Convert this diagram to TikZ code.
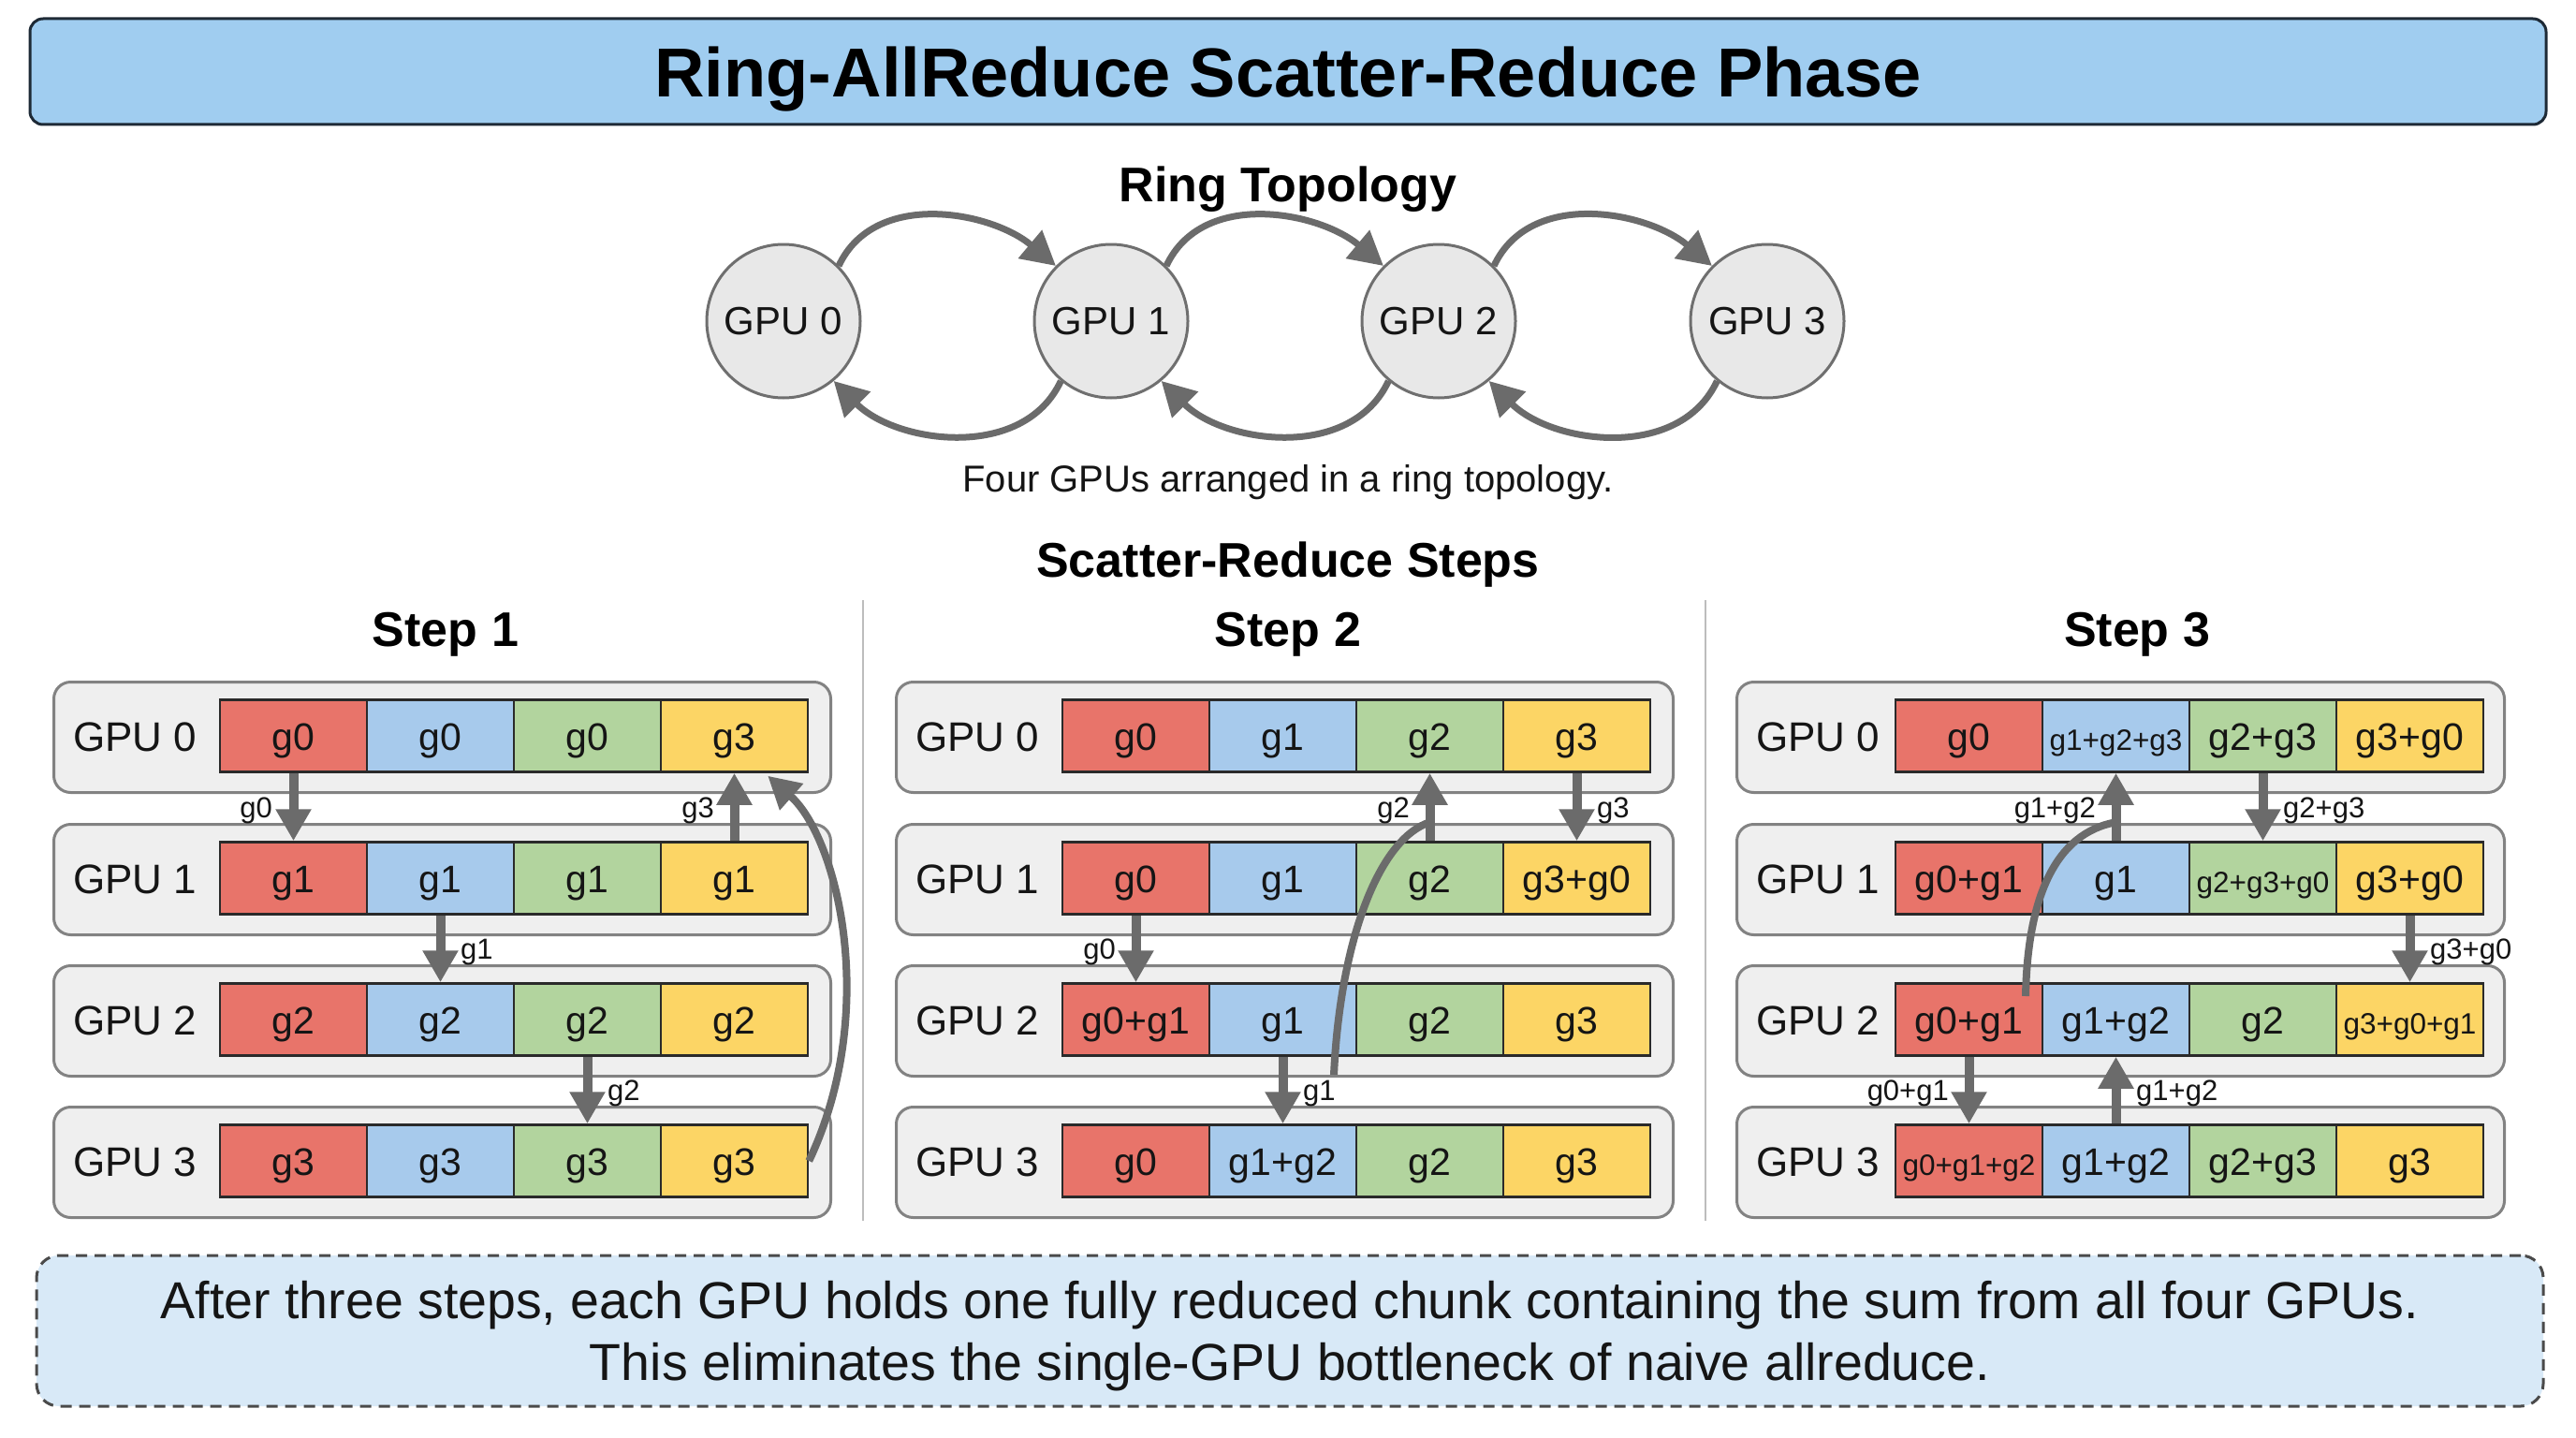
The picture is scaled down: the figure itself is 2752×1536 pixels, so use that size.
\documentclass[tikz,border=0pt]{standalone}
\usepackage{fontspec}
\setmainfont{Liberation Sans}
\usetikzlibrary{arrows.meta,calc}
\definecolor{titlefill}{HTML}{A0CDF0}
\definecolor{titleborder}{HTML}{1E2A36}
\definecolor{circfill}{HTML}{E8E8E8}
\definecolor{circborder}{HTML}{6F6F6F}
\definecolor{arrowgray}{HTML}{6B6B6B}
\definecolor{rowfill}{HTML}{EFEFEF}
\definecolor{rowborder}{HTML}{828282}
\definecolor{cellborder}{HTML}{2A2A2A}
\definecolor{cred}{HTML}{E8746A}
\definecolor{cblue}{HTML}{A7CAEC}
\definecolor{cgreen}{HTML}{B2D49E}
\definecolor{cyellow}{HTML}{FCD565}
\definecolor{textdark}{HTML}{151515}
\definecolor{sepgray}{HTML}{BDBDBD}
\definecolor{notefill}{HTML}{D8E9F7}
\definecolor{noteborder}{HTML}{4A4A4A}
\newcommand\smc[1]{{\fontsize{31.5}{34}\selectfont #1}}
\newcommand\gpurow[7]{%
  \node[rowbox, minimum width=\boxW, anchor=north west] (#1) at (\boxL,-#2) {};
  \node[rowlabel, anchor=west] (#1l) at ([xshift=22pt]#1.west) {#3};
  \node[cell, fill=cred] (#1c0) at (\cellS+78.5,-#2-59) {#4};
  \node[cell, fill=cblue] (#1c1) at (\cellS+235.5,-#2-59) {#5};
  \node[cell, fill=cgreen] (#1c2) at (\cellS+392.5,-#2-59) {#6};
  \node[cell, fill=cyellow] (#1c3) at (\cellS+549.5,-#2-59) {#7};
}
\tikzset{
  titlebox/.style={draw=titleborder, fill=titlefill, line width=3pt, rounded corners=14pt,
    minimum width=2688pt, minimum height=113pt, inner sep=0, text depth=0pt,
    font=\fontsize{74}{80}\selectfont\bfseries, text=black},
  heading/.style={font=\fontsize{52}{58}\selectfont\bfseries, text=black, inner sep=0, text depth=0pt},
  caption/.style={font=\fontsize{40}{46}\selectfont, text=textdark, inner sep=0, text depth=0pt},
  gpucircle/.style={circle, draw=circborder, fill=circfill, line width=3pt, minimum size=164pt,
    inner sep=0, font=\fontsize{42}{46}\selectfont, text=textdark},
  ringarrow/.style={draw=arrowgray, line width=7pt, -{Triangle[length=36pt,width=38pt]}},
  rowbox/.style={draw=rowborder, fill=rowfill, line width=3pt, rounded corners=18pt,
    minimum height=118pt, inner sep=0},
  rowlabel/.style={font=\fontsize{44}{48}\selectfont, inner sep=0, text=textdark},
  cell/.style={draw=cellborder, line width=2.5pt, minimum width=157pt, minimum height=77pt,
    inner sep=0, text height=40pt, text depth=10pt, font=\fontsize{41}{45}\selectfont, text=textdark},
  flow/.style={draw=arrowgray, line width=10pt, -{Triangle[length=34pt,width=36pt]}},
  flowcurve/.style={draw=arrowgray, line width=8pt, -{Triangle[length=34pt,width=36pt]}},
  flowline/.style={draw=arrowgray, line width=8pt},
  flowlbl/.style={font=\fontsize{31}{34}\selectfont, inner sep=0, text=textdark},
  sepline/.style={draw=sepgray, line width=2.5pt},
  notebox/.style={draw=noteborder, dash pattern=on 12pt off 8pt, fill=notefill, line width=3pt,
    rounded corners=24pt, minimum width=2678pt, minimum height=161pt, inner sep=0},
  notetext/.style={align=center, inner sep=0, font=\fontsize{55.5}{66}\selectfont, text=textdark}
}
\begin{document}
\begin{tikzpicture}[x=1pt,y=1pt]
\useasboundingbox (0,0) rectangle (2752,-1536);
\fill[white] (0,0) rectangle (2752,-1536);

% title
\node[titlebox] (title) at (1376,-76.5) {Ring-AllReduce Scatter-Reduce Phase};

% ring topology
\node[heading] (ringhead) at (1376,-197) {Ring Topology};
\node[gpucircle] (r0) at (837,-343) {GPU 0};
\node[gpucircle] (r1) at (1187,-343) {GPU 1};
\node[gpucircle] (r2) at (1537,-343) {GPU 2};
\node[gpucircle] (r3) at (1888,-343) {GPU 3};
\draw[ringarrow] (r0.45) to[out=65,in=140] (r1.135);
\draw[ringarrow] (r1.45) to[out=65,in=140] (r2.135);
\draw[ringarrow] (r2.45) to[out=65,in=140] (r3.135);
\draw[ringarrow] (r1.-130) to[out=-115,in=-45] (r0.-50);
\draw[ringarrow] (r2.-130) to[out=-115,in=-45] (r1.-50);
\draw[ringarrow] (r3.-130) to[out=-115,in=-45] (r2.-50);
\node[caption] (ringcap) at (1376,-511) {Four GPUs arranged in a ring topology.};

% steps
\node[heading] (stepshead) at (1376,-598) {Scatter-Reduce Steps};
\node[heading] (st1) at (476,-672) {Step 1};
\node[heading] (st2) at (1376,-672) {Step 2};
\node[heading] (st3) at (2283,-672) {Step 3};
\draw[sepline] (922,-641) -- (922,-1304);
\draw[sepline] (1822,-641) -- (1822,-1304);

% Step 1
\def\boxL{56}\def\boxW{830}\def\cellS{235}
\gpurow{sa0}{727}{GPU 0}{g0}{g0}{g0}{g3}
\gpurow{sa1}{879}{GPU 1}{g1}{g1}{g1}{g1}
\gpurow{sa2}{1030}{GPU 2}{g2}{g2}{g2}{g2}
\gpurow{sa3}{1181}{GPU 3}{g3}{g3}{g3}{g3}
\draw[flow] (sa0c0.south) -- (sa1c0.north);
\node[flowlbl, anchor=east] (la1) at (291,-866) {g0};
\draw[flow] (sa1c3.north) -- (sa0c3.south);
\node[flowlbl, anchor=east] (la2) at (763,-866) {g3};
\draw[flow] (sa1c1.south) -- (sa2c1.north);
\node[flowlbl, anchor=west] (la3) at (492,-1017) {g1};
\draw[flow] (sa2c2.south) -- (sa3c2.north);
\node[flowlbl, anchor=west] (la4) at (649,-1168) {g2};
\draw[flowcurve] (sa3c3.east) .. controls (940,-1080) and (895,-895) .. ($(sa0c3.south east)+(-44,-3)$);

% Step 2
\def\boxL{956}\def\boxW{830}\def\cellS{1135}
\gpurow{sb0}{727}{GPU 0}{g0}{g1}{g2}{g3}
\gpurow{sb1}{879}{GPU 1}{g0}{g1}{g2}{g3+g0}
\gpurow{sb2}{1030}{GPU 2}{g0+g1}{g1}{g2}{g3}
\gpurow{sb3}{1181}{GPU 3}{g0}{g1+g2}{g2}{g3}
\coordinate (sbstart) at (1425,-1148);
\draw[flowline] (sbstart) .. controls (1432,-1000) and (1475,-895) .. ($(sb1c2.north)+(0,20)$);
\draw[flow] (sb1c2.north) -- (sb0c2.south);
\node[flowlbl, anchor=east] (lb1) at (1506,-866) {g2};
\draw[flow] (sb0c3.south) -- (sb1c3.north);
\node[flowlbl, anchor=west] (lb2) at (1706,-866) {g3};
\draw[flow] (sb1c0.south) -- (sb2c0.north);
\node[flowlbl, anchor=east] (lb3) at (1192,-1017) {g0};
\draw[flow] (sb2c1.south) -- (sb3c1.north);
\node[flowlbl, anchor=west] (lb4) at (1392,-1168) {g1};

% Step 3
\def\boxL{1854}\def\boxW{820}\def\cellS{2025}
\gpurow{sc0}{727}{GPU 0}{g0}{\smc{g1+g2+g3}}{g2+g3}{g3+g0}
\gpurow{sc1}{879}{GPU 1}{g0+g1}{g1}{\smc{g2+g3+g0}}{g3+g0}
\gpurow{sc2}{1030}{GPU 2}{g0+g1}{g1+g2}{g2}{\smc{g3+g0+g1}}
\gpurow{sc3}{1181}{GPU 3}{\smc{g0+g1+g2}}{g1+g2}{g2+g3}{g3}
\coordinate (scstart) at (2164,-1064);
\draw[flowline] (scstart) .. controls (2166,-960) and (2195,-890) .. ($(sc1c1.north)+(0,20)$);
\draw[flow] (sc1c1.north) -- (sc0c1.south);
\node[flowlbl, anchor=east] (lc1) at (2239,-866) {g1+g2};
\draw[flow] (sc0c2.south) -- (sc1c2.north);
\node[flowlbl, anchor=west] (lc2) at (2439,-866) {g2+g3};
\draw[flow] (sc1c3.south) -- (sc2c3.north);
\node[flowlbl, anchor=west] (lc3) at (2596,-1017) {g3+g0};
\draw[flow] (sc2c0.south) -- (sc3c0.north);
\node[flowlbl, anchor=east] (lc4) at (2082,-1168) {g0+g1};
\draw[flow] (sc3c1.north) -- (sc2c1.south);
\node[flowlbl, anchor=west] (lc5) at (2282,-1168) {g1+g2};

% note
\node[notebox] (note) at (1378,-1421.5) {};
\node[notetext] (notetxt) at (1378,-1427) {After three steps, each GPU holds one fully reduced chunk containing the sum from all four GPUs.\\This eliminates the single-GPU bottleneck of naive allreduce.};
\end{tikzpicture}
\end{document}
